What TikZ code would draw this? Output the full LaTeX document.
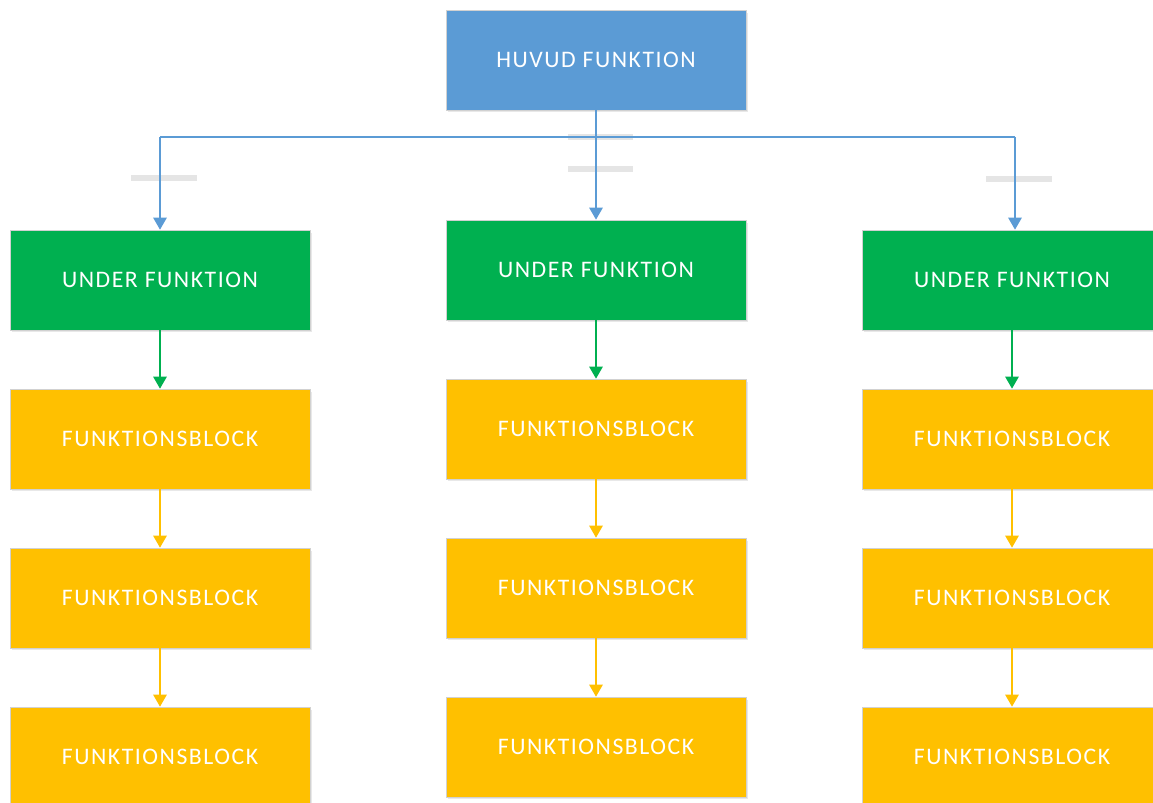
\documentclass[tikz,border=0pt]{standalone}
\usepackage{fontspec}
\setmainfont{Carlito}
\newfontfamily\boxfont{Carlito}[LetterSpace=6.5]
\usetikzlibrary{arrows.meta,shadows}

\definecolor{huvudblue}{HTML}{5B9BD5}
\definecolor{undergreen}{HTML}{00B050}
\definecolor{blockgold}{HTML}{FFC000}

\tikzset{
	box/.style={rectangle, draw=black!18, line width=0.4pt, text=white,
		minimum width=6cm, minimum height=2cm, inner sep=0pt,
		font=\boxfont\fontsize{13.5}{15}\selectfont,
		drop shadow={opacity=0.18, shadow xshift=0.04cm, shadow yshift=-0.05cm}},
	huvudbox/.style={box, fill=huvudblue},
	underbox/.style={box, fill=undergreen},
	blockbox/.style={box, fill=blockgold},
	link/.style={line width=0.8pt, -{Triangle[width=0.27cm,length=0.24cm]}},
	bar/.style={line width=0.12cm, black!10}
}

\begin{document}
\begin{tikzpicture}[x=0.02cm,y=0.02cm]
	\useasboundingbox (0,0) rectangle (1153,-803);
	\clip (0,0) rectangle (1153,-803);

	% faint bars behind the links
	\draw[bar] (131,-178)--(197,-178);
	\draw[bar] (568,-137)--(633,-137);
	\draw[bar] (568,-169)--(633,-169);
	\draw[bar] (986,-179)--(1052,-179);

	% main function
	\node[huvudbox] (H) at (596,-60) {HUVUD FUNKTION};

	% sub functions
	\node[underbox] (U1) at (160,-280) {UNDER FUNKTION};
	\node[underbox] (U2) at (596,-270) {UNDER FUNKTION};
	\node[underbox] (U3) at (1012,-280) {UNDER FUNKTION};

	% function blocks
	\node[blockbox] (B11) at (160,-439) {FUNKTIONSBLOCK};
	\node[blockbox] (B12) at (160,-598) {FUNKTIONSBLOCK};
	\node[blockbox] (B13) at (160,-757) {FUNKTIONSBLOCK};
	\node[blockbox] (B21) at (596,-429) {FUNKTIONSBLOCK};
	\node[blockbox] (B22) at (596,-588) {FUNKTIONSBLOCK};
	\node[blockbox] (B23) at (596,-747) {FUNKTIONSBLOCK};
	\node[blockbox] (B31) at (1012,-439) {FUNKTIONSBLOCK};
	\node[blockbox] (B32) at (1012,-598) {FUNKTIONSBLOCK};
	\node[blockbox] (B33) at (1012,-757) {FUNKTIONSBLOCK};

	% branching
	\coordinate (hL) at (160,-137);
	\coordinate (hR) at (1015,-137);
	\draw[huvudblue, line width=0.8pt] (hL)--(hR);
	\draw[link, huvudblue] (H.south)--(U2.north);
	\draw[link, huvudblue] (hL)--(U1.north);
	\draw[link, huvudblue] (hR)--(U3.north -| hR);

	\draw[link, undergreen] (U1)--(B11);
	\draw[link, undergreen] (U2)--(B21);
	\draw[link, undergreen] (U3)--(B31);
	\draw[link, blockgold] (B11)--(B12);
	\draw[link, blockgold] (B12)--(B13);
	\draw[link, blockgold] (B21)--(B22);
	\draw[link, blockgold] (B22)--(B23);
	\draw[link, blockgold] (B31)--(B32);
	\draw[link, blockgold] (B32)--(B33);
\end{tikzpicture}
\end{document}
